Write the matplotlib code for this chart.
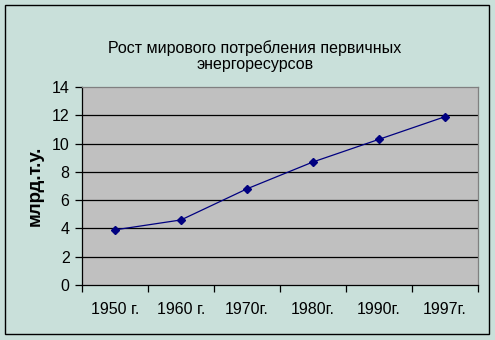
import matplotlib
matplotlib.use("Agg")
import matplotlib.pyplot as plt
from matplotlib.patches import Rectangle
import numpy as np

categories = ["1950 г.", "1960 г.", "1970г.", "1980г.", "1990г.", "1997г."]
values = [3.9, 4.6, 6.8, 8.7, 10.3, 11.9]
yticks = [0, 2, 4, 6, 8, 10, 12, 14]

plt.rcParams['font.family'] = ['Liberation Sans', 'DejaVu Sans']

W, H = 495, 340
fig = plt.figure(figsize=(W / 100, H / 100), dpi=100)
bg = "#C9E0DA"
fig.patch.set_facecolor(bg)

# outer border
fig.patches.append(Rectangle((5 / W, 6 / H), 484 / W, 329 / H, transform=fig.transFigure,
                             fill=False, edgecolor="black", linewidth=1.0))

ax = fig.add_axes([82 / W, 1 - 285 / H, 396 / W, 198 / H])
ax.set_facecolor("#C0C0C0")
n = len(categories)
x = np.arange(n) + 0.5
ax.plot(x, values, color="#000080", linewidth=0.9, marker="D", markersize=4,
        markerfacecolor="#000080", markeredgecolor="#000080")
ax.set_xlim(0, n)
ax.set_ylim(0, 14)
ax.set_yticks(yticks)
ax.set_yticklabels([str(v) for v in yticks], fontsize=11.5)
for v in yticks[1:-1]:
    ax.axhline(v, color="black", linewidth=0.9, zorder=1)
ax.set_xticks(np.arange(n + 1))
ax.set_xticklabels([])
ax.set_xticks(x, minor=True)
ax.set_xticklabels(categories, minor=True, fontsize=11.5)
ax.tick_params(axis="x", which="minor", length=0, pad=12)
ax.tick_params(axis="x", which="major", length=5, direction="out", width=0.9)
ax.tick_params(axis="y", length=5, direction="out", width=0.9, pad=4)
for s in ["top", "right"]:
    ax.spines[s].set_color("#808080")
    ax.spines[s].set_linewidth(0.9)
for s in ["left", "bottom"]:
    ax.spines[s].set_color("black")
    ax.spines[s].set_linewidth(0.9)

ax.set_ylabel("млрд.т.у.", fontsize=13.5, fontweight="bold", labelpad=6)

fig.text(255 / W, 1 - 56 / H, "Рост мирового потребления первичных\nэнергоресурсов",
         ha="center", va="center", fontsize=11.5, linespacing=1.05)

fig.savefig("out.png", dpi=100, facecolor=bg)
